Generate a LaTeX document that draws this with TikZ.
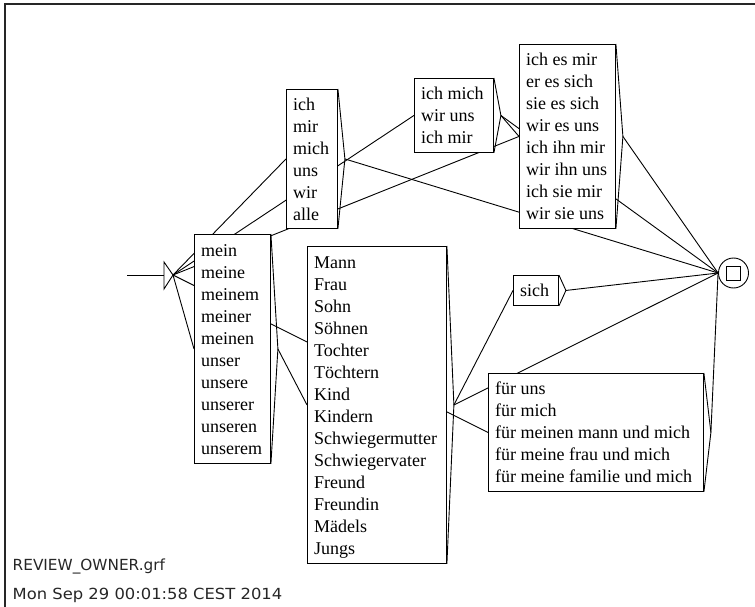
\documentclass[tikz,border=0pt]{standalone}
\usepackage{fontspec}
\setmainfont{Liberation Serif}
\newfontfamily\stampfont{DejaVu Sans}
\pgfdeclarelayer{edges}
\pgfsetlayers{edges,main}
% strut giving every text line a fixed 22pt slot
\newcommand\gstrut{\rule[-4.5pt]{0pt}{22pt}}
\tikzset{
  box/.style={draw=black, fill=white, line width=0.9pt, rectangle,
              inner sep=0pt, anchor=north west},
  words/.style={font=\fontsize{18}{22}\selectfont, align=left,
                inner sep=0pt, anchor=west, text=black},
  link/.style={line width=0.9pt, draw=black},
  stamp/.style={font=\stampfont\fontsize{15.3}{18}\selectfont,
                inner sep=0pt, anchor=base west, text=black!85}
}
% box: name, x, y, width, height, lines
\newcommand\gbox[6]{%
  \node[box, minimum width=#4pt, minimum height=#5pt] (#1) at (#2,#3) {};
  \node[words] (#1-text) at ([xshift=7pt]#1.west) {#6};
  \coordinate (#1-out) at ([xshift=7pt]#1.east);
  \draw[link] (#1.north east) -- (#1-out) -- (#1.south east);
}
\begin{document}
\begin{tikzpicture}[x=1pt,y=-1pt]
\useasboundingbox (0,0) rectangle (755,607);

% sheet border
\draw[line width=2pt, black!85] (4.5,607) -- (4.5,4.5) -- (755,4.5);

% initial state
\coordinate (init) at (173,275);
\coordinate (entry) at (127,275);
\draw[link] (entry) -- ([xshift=-9pt]init);
\draw[link] (init) -- ++(-9,-13) -- ++(0,27) -- cycle;

% final state
\node[circle, draw=black, line width=0.9pt, minimum size=30pt, inner sep=0pt]
  (fin) at (733.5,273) {};
\node[draw=black, line width=0.9pt, minimum size=14pt, inner sep=0pt]
  (finsq) at (fin.center) {};

% boxes
\gbox{mein}{194}{234}{76}{229}{mein\gstrut\\meine\gstrut\\meinem\gstrut\\meiner\gstrut\\meinen\gstrut\\unser\gstrut\\unsere\gstrut\\unserer\gstrut\\unseren\gstrut\\unserem\gstrut}
\gbox{pron}{286}{89}{51}{139}{ich\gstrut\\mir\gstrut\\mich\gstrut\\uns\gstrut\\wir\gstrut\\alle\gstrut}
\gbox{refl}{414}{78}{79}{74}{ich mich\gstrut\\wir uns\gstrut\\ich mir\gstrut}
\gbox{obj}{519}{44}{96}{184}{ich es mir\gstrut\\er es sich\gstrut\\sie es sich\gstrut\\wir es uns\gstrut\\ich ihn mir\gstrut\\wir ihn uns\gstrut\\ich sie mir\gstrut\\wir sie uns\gstrut}
\gbox{kin}{307}{246}{139}{317}{Mann\gstrut\\Frau\gstrut\\Sohn\gstrut\\Söhnen\gstrut\\Tochter\gstrut\\Töchtern\gstrut\\Kind\gstrut\\Kindern\gstrut\\Schwiegermutter\gstrut\\Schwiegervater\gstrut\\Freund\gstrut\\Freundin\gstrut\\Mädels\gstrut\\Jungs\gstrut}
\gbox{sich}{513}{275}{45}{30}{sich\gstrut}
\gbox{fuer}{488}{373}{215}{118}{für uns\gstrut\\für mich\gstrut\\für meinen mann und mich\gstrut\\für meine frau und mich\gstrut\\für meine familie und mich\gstrut}

% transitions, drawn beneath the boxes
\begin{pgfonlayer}{edges}
  \draw[link] (init) -- (pron.west);
  \draw[link] (init) -- (refl.west);
  \draw[link] (init) -- (obj.west);
  \draw[link] (init) -- (mein.west);
  \draw[link] (init) -- (fuer.west);
  \draw[link] (mein-out) -- (kin.west);
  \draw[link] (pron-out) -- (fin.west);
  \draw[link] (refl-out) -- (obj.west);
  \draw[link] (refl-out) -- (fin.west);
  \draw[link] (obj-out) -- (fin.west);
  \draw[link] (kin-out) -- (sich.west);
  \draw[link] (kin-out) -- (fin.west);
  \draw[link] (sich-out) -- (fin.west);
  \draw[link] (fuer-out) -- (fin.west);
\end{pgfonlayer}

% file stamp
\node[stamp] (fname) at (12.5,570) {REVIEW\_OWNER.grf};
\node[stamp] (fdate) at (12.5,599) {\scalebox{1.07}[1]{Mon Sep 29 00:01:58 CEST 2014}};
\end{tikzpicture}
\end{document}
